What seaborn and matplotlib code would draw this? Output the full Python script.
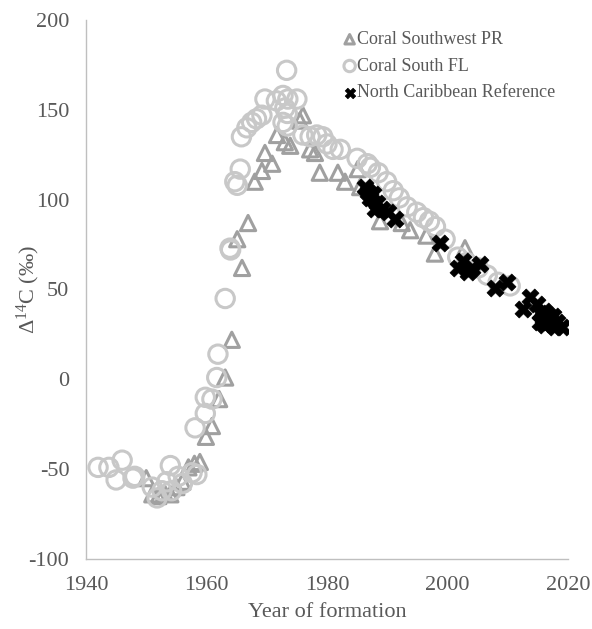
import numpy as np
import pandas as pd
import matplotlib
matplotlib.use("Agg")
import matplotlib.pyplot as plt
import seaborn as sns

# Coral Southwest PR (triangles)
pr_year = [1950.0, 1951.0, 1952.0, 1953.0, 1954.0, 1955.0, 1956.0, 1957.0, 1958.0, 1958.9,
           1959.9, 1960.9, 1962.1, 1963.1, 1964.2, 1965.1, 1965.9, 1966.9, 1968.0, 1969.2,
           1969.7, 1970.9, 1971.7, 1973.0, 1973.9, 1975.5, 1976.0, 1977.2, 1978.0, 1978.8,
           1981.8, 1983.0, 1985.1, 1985.5, 1988.8, 1992.4, 1993.8, 1996.5, 1997.9, 2002.9]
pr_d14c = [-55, -64, -65, -63, -64, -60, -57, -49, -47, -46,
           -32, -26, -11, 1, 22, 78, 62, 87, 110, 116,
           126, 120, 136, 132, 130, 144, 147, 128, 126, 115,
           115, 110, 117, 107, 88, 87, 83, 80, 70, 73]

# Coral South FL (circles)
fl_year = [1942.0, 1943.8, 1945.0, 1946.0, 1947.8, 1948.1, 1951.0, 1951.8, 1952.6, 1953.4,
           1954.0, 1954.2, 1955.3, 1956.0, 1957.6, 1958.4, 1958.1, 1959.8, 1959.8, 1960.9,
           1961.7, 1961.9, 1963.1, 1963.9, 1964.0, 1964.7, 1965.1, 1965.6, 1965.8, 1966.7,
           1967.5, 1968.3, 1969.2, 1969.7, 1971.6, 1972.7, 1973.3, 1973.5, 1975.0, 1973.0,
           1973.4, 1972.7, 1973.4, 1976.0, 1977.2, 1978.3, 1979.3, 1980.0, 1981.0, 1982.2,
           1985.0, 1986.7, 1987.2, 1988.5, 1989.9, 1991.0, 1992.0, 1993.3, 1994.9, 1996.0,
           1997.0, 1998.0, 1999.6, 2001.7, 2003.2, 2005.1, 2006.6, 2008.4, 2010.4]
fl_d14c = [-49, -49, -56, -45, -55, -54, -60, -66, -62, -57,
           -48, -62, -54, -58, -52, -53, -27, -10, -19, -11,
           1, 14, 45, 73, 72, 110, 108, 117, 135, 140,
           143, 145, 147, 156, 155, 158, 172, 156, 156, 151,
           148, 143, 141, 136, 135, 136, 135, 131, 128, 128,
           123, 120, 118, 115, 110, 105, 101, 96, 93, 90,
           88, 85, 78, 68, 65, 62, 58, 54, 52]

# North Caribbean Reference (crosses)
nc_year = [1986.3, 1986.8, 1987.2, 1987.6, 1988.3, 1988.0, 1989.2, 1990.2, 1991.3, 1998.8,
           2001.7, 2002.6, 2003.4, 2004.0, 2005.4, 2007.9, 2009.9, 2012.5, 2013.7, 2014.8,
           2015.3, 2015.3, 2015.8, 2016.0, 2016.6, 2017.0, 2017.3, 2017.8, 2018.2, 2019.0,
           2016.2, 2017.5]
nc_d14c = [107, 104, 101, 103, 98, 95, 95, 93, 89, 76,
           62, 66, 60, 62, 64, 51, 54, 39, 46, 42,
           37, 32, 34, 38, 36, 33, 31, 29, 32, 29,
           30, 35]

df = pd.concat([
    pd.DataFrame({"year": pr_year, "d14c": pr_d14c, "source": "Coral Southwest PR"}),
    pd.DataFrame({"year": fl_year, "d14c": fl_d14c, "source": "Coral South FL"}),
    pd.DataFrame({"year": nc_year, "d14c": nc_d14c, "source": "North Caribbean Reference"}),
])

sns.set_style("white")
plt.rcParams['font.family'] = ['Liberation Serif', 'DejaVu Serif']
plt.rcParams['mathtext.fontset'] = 'custom'
plt.rcParams['mathtext.rm'] = 'Liberation Serif'
plt.rcParams['mathtext.default'] = 'regular'
plt.rcParams['axes.unicode_minus'] = False

text_col = '#595959'
axis_col = '#bfbfbf'

fig = plt.figure(figsize=(5.92, 6.29), dpi=100)
ax = fig.add_axes([86 / 592, 70 / 629, 482 / 592, 539 / 629])

sub = df[df.source == "Coral Southwest PR"]
sns.scatterplot(data=sub, x="year", y="d14c", ax=ax, marker="^", s=120,
                facecolor="none", edgecolor="#a0a0a0", linewidth=2.2,
                label="Coral Southwest PR")
sub = df[df.source == "Coral South FL"]
sns.scatterplot(data=sub, x="year", y="d14c", ax=ax, marker="o", s=175,
                facecolor="none", edgecolor="#c8c8c8", linewidth=2.2,
                label="Coral South FL", zorder=1)
sub = df[df.source == "North Caribbean Reference"]
sns.scatterplot(data=sub, x="year", y="d14c", ax=ax, marker="X", s=150,
                color="black", edgecolor="black", linewidth=0.5,
                label="North Caribbean Reference", zorder=3)

ax.set_xlim(1940, 2020)
ax.set_ylim(-100, 200)
ax.set_xticks([1940, 1960, 1980, 2000, 2020])
ax.set_xticks(np.arange(1940, 2021, 4), minor=True)
ax.set_yticks(np.arange(-100, 201, 50))
ax.set_yticks(np.arange(-100, 201, 10), minor=True)

for side in ['top', 'right']:
    ax.spines[side].set_visible(False)
for side in ['left', 'bottom']:
    ax.spines[side].set_color(axis_col)
    ax.spines[side].set_linewidth(1.0)

ax.tick_params(axis='both', which='both', direction='in', color=axis_col,
               length=5, width=1, labelsize=16, labelcolor=text_col, pad=12)

ax.set_xlabel("Year of formation", fontsize=16, color=text_col, labelpad=6)
ax.set_ylabel("Δ$^{14}$C (‰)", fontsize=16, color=text_col)
ax.yaxis.set_label_coords(-0.091, 0.5)

leg = ax.legend(loc='upper left', bbox_to_anchor=(0.517, 0.993), frameon=False,
                fontsize=13, markerscale=0.62, handletextpad=0.0,
                handlelength=0.8, labelspacing=0.54, borderaxespad=0)
for t in leg.get_texts():
    t.set_color(text_col)

fig.savefig("out.png", dpi=100)
